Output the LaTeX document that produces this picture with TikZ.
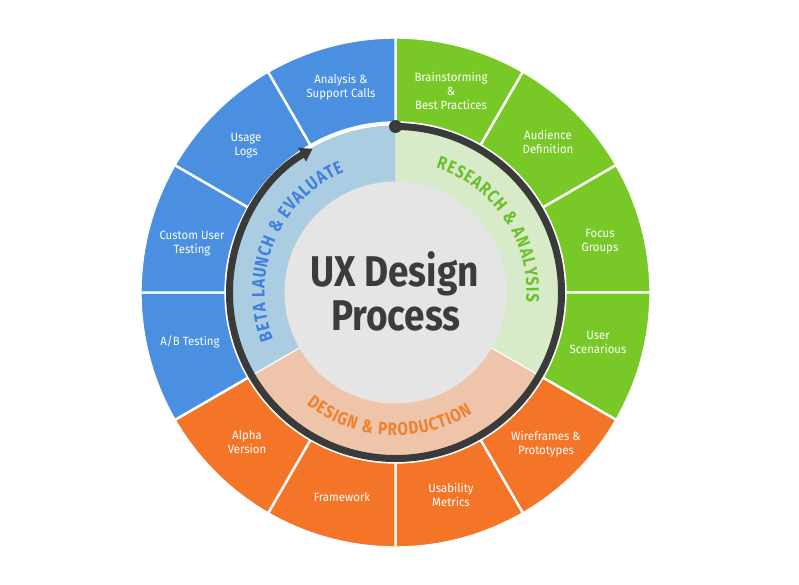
\documentclass[tikz,border=0pt]{standalone}
\usepackage{fontspec}
\setmainfont{Fira Sans}
\newfontfamily\condfont[FakeStretch=0.84]{Fira Sans}
\newfontfamily\titlefont[FakeStretch=0.86]{Fira Sans}
\newfontfamily\labelfont[FakeStretch=0.95]{Fira Sans}
\usetikzlibrary{arrows.meta}
\definecolor{blO}{HTML}{4A8FE0}
\definecolor{grO}{HTML}{78C928}
\definecolor{orO}{HTML}{F47528}
\definecolor{blL}{HTML}{ABCDE2}
\definecolor{grL}{HTML}{D7EBC8}
\definecolor{orL}{HTML}{EEC5AB}
\definecolor{core}{HTML}{E5E5E5}
\definecolor{darkarc}{HTML}{3A3A3A}
\definecolor{titlecol}{HTML}{3C3C3C}
\definecolor{blT}{HTML}{3F7FE0}
\definecolor{grT}{HTML}{6CC02A}
\definecolor{orT}{HTML}{F1802F}
\newcommand\ringfnt{\condfont\bfseries\fontsize{18}{18}\selectfont}
\tikzset{
  sector/.style={draw=white, line width=2.4pt},
  outlabel/.style={text=white, align=center, font=\labelfont\fontsize{12}{14}\selectfont, inner sep=0pt},
  ringchar/.style={anchor=base, inner sep=0pt, font=\ringfnt},
  titletext/.style={anchor=base, text=titlecol, font=\titlefont\bfseries\fontsize{43}{43}\selectfont, inner sep=0pt},
}
\newcommand\rttrack{1.0}
\makeatletter
\def\rtp@amp{\&}
\def\rtp@sp{}
% measure every character once, outside the picture
\newcommand\measurechars{%
  \foreach \k/\p in {A/A,B/B,C/C,D/D,E/E,G/G,H/H,I/I,L/L,N/N,O/O,P/P,R/R,S/S,T/T,U/U,V/V,Y/Y,amp/\&,sp/\ }{%
    \setbox0\hbox{\ringfnt\p}%
    \expandafter\xdef\csname rtw@\k\endcsname{\strip@pt\wd0}%
  }%
}
% #1 radius of baseline, #2 centre angle, #3 sign (-1 clockwise, 1 counterclockwise), #4 character keys
\newcommand\ringtext[4]{%
  \gdef\rt@sum{0}%
  \foreach \ch in {#4}{%
    \edef\cw{\csname rtw@\ch\endcsname}%
    \pgfmathsetmacro\rt@tmp{\rt@sum+\cw+\rttrack}%
    \xdef\rt@sum{\rt@tmp}%
  }%
  \pgfmathsetmacro\rt@tmp{#2-(#3)*(\rt@sum/2)/#1*57.29578}%
  \xdef\rt@ang{\rt@tmp}%
  \foreach \ch in {#4}{%
    \edef\cw{\csname rtw@\ch\endcsname}%
    \pgfmathsetmacro\rt@ca{\rt@ang+(#3)*((\cw+\rttrack)/2)/#1*57.29578}%
    \pgfmathsetmacro\rt@rot{\rt@ca+(#3)*90}%
    \node[ringchar, rotate=\rt@rot] at (\rt@ca:#1) {\ifcsname rtp@\ch\endcsname\csname rtp@\ch\endcsname\else\ch\fi};
    \pgfmathsetmacro\rt@tmp{\rt@ang+(#3)*(\cw+\rttrack)/#1*57.29578}%
    \xdef\rt@ang{\rt@tmp}%
  }%
}
\makeatother
\begin{document}
\measurechars
\begin{tikzpicture}[x=1pt,y=1pt]
\useasboundingbox (-395.5,-291.5) rectangle (403.5,292.5);
\fill[white] (-395.5,-291.5) rectangle (403.5,292.5);
% outer ring
\foreach \a/\c in {60/grO,30/grO,0/grO,-30/grO,-60/orO,-90/orO,-120/orO,-150/orO,-180/blO,150/blO,120/blO,90/blO}
  \filldraw[sector, fill=\c] (\a:170) arc[start angle=\a, end angle=\a+30, radius=170]
     -- ({\a+30}:255) arc[start angle=\a+30, end angle=\a, radius=255] -- cycle;
% inner light ring
\fill[blL] (0,0) -- (90:167) arc[start angle=90, end angle=210, radius=167] -- cycle;
\fill[grL] (0,0) -- (90:167) arc[start angle=90, end angle=-30, radius=167] -- cycle;
\fill[orL] (0,0) -- (-30:167) arc[start angle=-30, end angle=-150, radius=167] -- cycle;
\draw[white, line width=1.2pt] (-30:105) -- (-30:167);
\draw[white, line width=1.2pt] (-150:105) -- (-150:167);
\fill[core] (0,0) circle[radius=111];
% dark cycle arrow
\draw[darkarc, line width=7pt, -{Triangle[width=15pt,length=12pt]}]
  (90:166) arc[start angle=90, end angle=-240, radius=166];
\fill[darkarc] (90:166) circle[radius=6.5];
% curved phase labels
\begin{scope}[text=blT]
  \ringtext{131}{157}{-1}{B,E,T,A,sp,L,A,U,N,C,H,sp,amp,sp,E,V,A,L,U,A,T,E}
\end{scope}
\begin{scope}[text=grT]
  \ringtext{131}{34}{-1}{R,E,S,E,A,R,C,H,sp,amp,sp,A,N,A,L,Y,S,I,S}
\end{scope}
\begin{scope}[text=orT]
  \ringtext{143}{-93}{1}{D,E,S,I,G,N,sp,amp,sp,P,R,O,D,U,C,T,I,O,N}
\end{scope}
% title
\node[titletext] (t1) at (-1,6) {UX Design};
\node[titletext] (t2) at (0.5,-38) {Process};
% outer labels
\node[outlabel] (l1) at (-54.5,205.5) {Analysis \&\\Support Calls};
\node[outlabel] (l2) at (55.5,201.5) {Brainstorming\\\&\\Best Practices};
\node[outlabel] (l3) at (152.5,150.5) {Audience\\Definition};
\node[outlabel] (l4) at (204.5,51) {Focus\\Groups};
\node[outlabel] (l5) at (202.5,-49.5) {User\\Scenarious};
\node[outlabel] (l6) at (150.5,-152) {Wireframes \&\\Prototypes};
\node[outlabel] (l7) at (55.5,-202.5) {Usability\\Metrics};
\node[outlabel] (l8) at (-53.5,-204.5) {Framework};
\node[outlabel] (l9) at (-148.5,-149.5) {Alpha\\Version};
\node[outlabel] (l10) at (-205.5,-49.5) {A/B Testing};
\node[outlabel] (l11) at (-203.5,48.5) {Custom User\\Testing};
\node[outlabel] (l12) at (-149.5,146.5) {Usage\\Logs};
\end{tikzpicture}
\end{document}
